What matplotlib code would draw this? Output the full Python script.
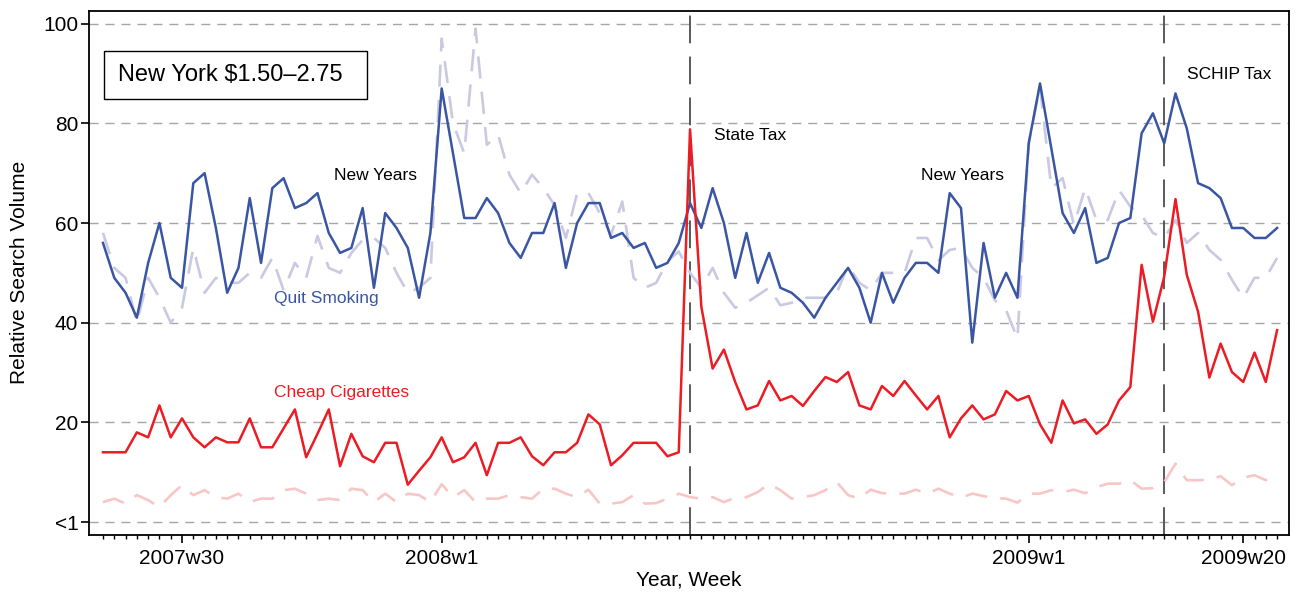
import numpy as np
import matplotlib
matplotlib.use('Agg')
import matplotlib.pyplot as plt
from matplotlib.patches import Rectangle

plt.rcParams['font.family'] = ['Liberation Sans', 'DejaVu Sans']
plt.rcParams['lines.scale_dashes'] = False

# weekly series, first point = 2007w23
quit_smoking = [56, 49, 46, 41, 52, 60, 49, 47, 68, 70,
                59, 46, 51, 65, 52, 67, 69, 63, 64, 66,
                58, 54, 55, 63, 47, 62, 59, 55, 45, 58,
                87, 74, 61, 61, 65, 62, 56, 53, 58, 58,
                64, 51, 60, 64, 64, 57, 58, 55, 56, 51,
                52, 56, 64, 59, 67, 60, 49, 58, 48, 54,
                47, 46, 44, 41, 45, 48, 51, 47, 40, 50,
                44, 49, 52, 52, 50, 66, 63, 36, 56, 45,
                50, 45, 76, 88, 75, 62, 58, 63, 52, 53,
                60, 61, 78, 82, 76, 86, 79, 68, 67, 65,
                59, 59, 57, 57, 59]
cheap_cigs = [14, 14, 14, 18, 17, 23.4, 17, 20.8, 17, 15,
              17, 16, 16, 20.8, 15, 15, 18.8, 22.6, 13, 17.7,
              22.6, 11.2, 17.7, 13.2, 12, 15.9, 15.9, 7.5, 10.3, 13,
              17, 12, 13, 15.9, 9.4, 15.9, 15.9, 17, 13.2, 11.4,
              14, 14, 15.9, 21.6, 19.6, 11.4, 13.4, 15.9, 15.9, 15.9,
              13.2, 14, 78.8, 43.2, 30.8, 34.6, 28.1, 22.6, 23.4, 28.3,
              24.4, 25.3, 23.3, 26.3, 29.1, 28.1, 30.1, 23.4, 22.6, 27.3,
              25.3, 28.3, 25.4, 22.6, 25.3, 17, 20.8, 23.4, 20.6, 21.6,
              26.3, 24.4, 25.3, 19.6, 15.9, 24.4, 19.8, 20.6, 17.7, 19.6,
              24.4, 27.1, 51.6, 40.2, 49.2, 64.8, 49.6, 42.2, 29, 35.8,
              30.1, 28.1, 34, 28.1, 38.5]
quit_smoking_ref = [58, 51, 49, 40, 49, 45, 40, 43, 55, 46,
                    49, 48, 48, 50, 49, 53, 46.5, 52, 49, 57.4,
                    51, 50, 54, 56.6, 57, 55, 50, 46, 47, 49,
                    97, 80, 74, 99, 75.7, 77.7, 69.7, 66, 69.7, 67,
                    63.6, 57, 66, 66, 62, 57.6, 64.3, 49, 47, 48,
                    52.3, 54.3, 50, 47, 51, 46, 43, 44, 45.5, 47,
                    43.5, 44, 45, 45, 45, 46, 51.5, 48, 46.5, 50,
                    50, 50, 57, 57, 52.5, 54.6, 55, 51, 49, 44.5,
                    42.5, 36.8, 76, 87.4, 67, 69, 59.6, 67, 60.6, 60.6,
                    66.6, 63.3, 61.6, 58, 57, 60.6, 56, 58, 54.6, 52.6,
                    48.6, 45, 49, 49, 53]
cheap_cigs_ref = [4, 4.7, 3.7, 5.4, 4.4, 3, 5.4, 7.4, 5.4, 6.4,
                  5, 4.7, 5.7, 4, 4.7, 4.7, 6.4, 6.7, 5.7, 4.4,
                  4.7, 4.4, 6.7, 6.4, 4, 5.7, 4, 5.7, 5.4, 4,
                  7.6, 5, 6.4, 4, 4.7, 4.7, 5.4, 5, 4.7, 6.7,
                  6.7, 5.7, 5, 6.5, 3.7, 3.7, 4, 5.4, 3.7, 3.8,
                  4.7, 5.7, 5, 4.7, 5, 4, 4.9, 5, 6, 7.7,
                  6.4, 4.7, 5, 5.4, 6.4, 8, 5.4, 4.7, 6.5, 5.8,
                  5.7, 5.7, 6.5, 5.7, 6.7, 5.7, 4.9, 5.7, 5.2, 4.8,
                  4.7, 3.9, 5.7, 5.7, 6.4, 6, 6.5, 5.8, 7, 7.7,
                  7.7, 8.4, 6.7, 6.8, 8, 11.7, 8.4, 8.4, 8.5, 9.2,
                  7.4, 8.9, 9.4, 8.4, 9.4]

tick_weeks = [7, 30, 82, 101]
tick_labels = ['2007w30', '2008w1', '2009w1', '2009w20']
event_weeks = [52, 94]
y_ticks = [0, 20, 40, 60, 80, 100]
y_labels = ['<1', '20', '40', '60', '80', '100']

weeks = np.arange(len(quit_smoking))

fig = plt.figure(figsize=(13, 5.94), dpi=100)
ax = fig.add_axes([0.0688, 0.0993, 0.9227, 0.8827])

blue = '#3a55a4'
red = '#ec1c24'
lav = '#c9c9e2'
pink = '#f9c6c6'

for v in y_ticks:
    ax.axhline(v, color='#a6a6a6', lw=1.0, dashes=(6.5, 5), zorder=1)
for w in event_weeks:
    ax.axvline(w, color='#4d4d4d', lw=1.3, dashes=(20, 9.5), zorder=2)

ax.plot(weeks, quit_smoking_ref, color=lav, lw=1.9, dashes=(16, 9.5), zorder=3)
ax.plot(weeks, cheap_cigs_ref, color=pink, lw=1.9, dashes=(16, 9.5), zorder=3)
ax.plot(weeks, quit_smoking, color=blue, lw=1.8, zorder=4)
ax.plot(weeks, cheap_cigs, color=red, lw=1.8, zorder=5)

ax.set_xlim(-1.2, 105.05)
ax.set_ylim(-2.6, 102.6)
ax.set_yticks(y_ticks)
ax.set_yticklabels(y_labels)
ax.set_xticks(tick_weeks)
ax.set_xticklabels(tick_labels)
ax.set_xticks(weeks, minor=True)
ax.tick_params(axis='both', which='major', labelsize=15, length=6, width=1.2, direction='out')
ax.tick_params(axis='x', which='major', pad=4)
ax.tick_params(axis='y', which='major', pad=2)
ax.tick_params(axis='x', which='minor', length=3, width=1.0)
for s in ax.spines.values():
    s.set_linewidth(1.3)

ax.set_ylabel('Relative Search Volume', fontsize=15, labelpad=10)
ax.set_xlabel('Year, Week', fontsize=15, labelpad=2)

ax.add_patch(Rectangle((0.0121, 0.8316), 0.2193, 0.0915, transform=ax.transAxes,
                       fill=False, edgecolor='black', lw=1.0, zorder=6))
ax.text(0.0238, 0.877, 'New York $1.50\u20132.75', transform=ax.transAxes,
        fontsize=17, ha='left', va='center', zorder=7)

ax.text(24.1, 69.6, 'New Years', fontsize=12.5, ha='center', va='center')
ax.text(76.1, 69.6, 'New Years', fontsize=12.5, ha='center', va='center')
ax.text(57.35, 77.6, 'State Tax', fontsize=12.5, ha='center', va='center')
ax.text(99.8, 89.7, 'SCHIP Tax', fontsize=12.5, ha='center', va='center')
ax.text(15.15, 44.9, 'Quit Smoking', fontsize=12.5, color=blue, ha='left', va='center')
ax.text(15.15, 25.9, 'Cheap Cigarettes', fontsize=12.5, color=red, ha='left', va='center')

fig.savefig('out.png', dpi=100)
